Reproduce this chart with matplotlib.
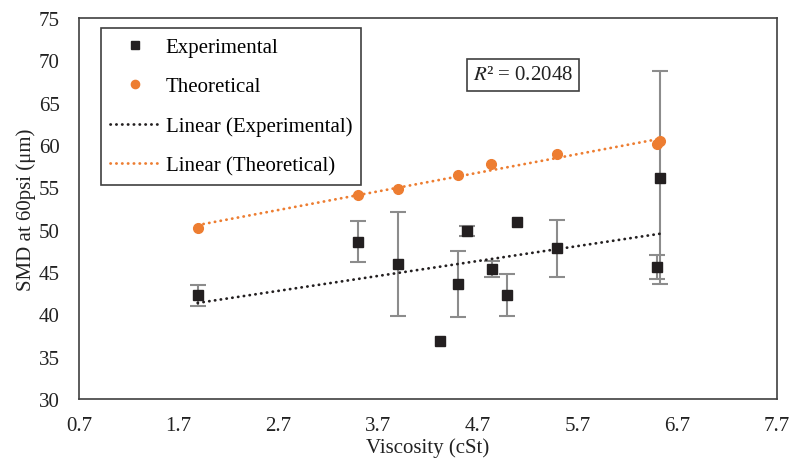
import numpy as np
import matplotlib
matplotlib.use("Agg")
import matplotlib.pyplot as plt

plt.rcParams["font.family"] = ["Liberation Serif", "DejaVu Serif"]
plt.rcParams["mathtext.fontset"] = "stix"

# Measured droplet size against viscosity
exp_x = [1.89, 3.495, 3.897, 4.32, 4.498, 4.595, 4.839, 4.996, 5.096, 5.497, 6.497, 6.53]
exp_y = [42.25, 48.58, 45.94, 36.9, 43.62, 49.84, 45.35, 42.25, 50.87, 47.8, 45.63, 56.14]
exp_err = [1.25, 2.4, 6.1, 0.0, 3.9, 0.6, 0.9, 2.5, 0.0, 3.35, 1.4, 12.6]

# Model prediction
theo_x = [1.89, 3.495, 3.897, 4.498, 4.835, 5.497, 6.497, 6.53]
theo_y = [50.2, 54.13, 54.77, 56.42, 57.72, 58.94, 60.1, 60.5]

x_ticks = [0.7, 1.7, 2.7, 3.7, 4.7, 5.7, 6.7, 7.7]
y_ticks = [30, 35, 40, 45, 50, 55, 60, 65, 70, 75]

black = "#231f20"
orange = "#ed7d31"
grey = "#8c8c8c"
frame = "#404040"
txt = "#222222"

fig = plt.figure(figsize=(7.91, 4.64), dpi=100)
ax = fig.add_axes([0.0999, 0.1379, 0.8824, 0.8211])

# error bars only where a spread was measured
ex = [x for x, e in zip(exp_x, exp_err) if e > 0]
ey = [y for y, e in zip(exp_y, exp_err) if e > 0]
ee = [e for e in exp_err if e > 0]
ax.errorbar(ex, ey, yerr=ee, fmt="none", ecolor=grey,
            elinewidth=1.5, capsize=6, capthick=1.5, zorder=2)
ax.plot(exp_x, exp_y, ls="none", marker="s", ms=7.5, color=black,
        label="Experimental", zorder=4)
ax.plot(theo_x, theo_y, ls="none", marker="o", ms=7, color=orange,
        label="Theoretical", zorder=4)

# Least-squares trend lines over the data range
for xs, ys, col, lab in [(exp_x, exp_y, black, "Linear (Experimental)"),
                         (theo_x, theo_y, orange, "Linear (Theoretical)")]:
    k, b = np.polyfit(xs, ys, 1)
    xx = np.array([min(xs), max(xs)])
    ax.plot(xx, k * xx + b, color=col, lw=2.0, ls=(0, (0.1, 2.0)),
            dash_capstyle="round", label=lab, zorder=3)

ax.set_xlim(0.7, 7.7)
ax.set_ylim(30, 75)
ax.set_xticks(x_ticks)
ax.set_xticklabels([f"{v:.1f}" for v in x_ticks])
ax.set_yticks(y_ticks)
ax.tick_params(length=0, labelsize=15, colors=txt)
ax.tick_params(axis="y", pad=14)
ax.tick_params(axis="x", pad=12)
for s in ax.spines.values():
    s.set_color(frame)
    s.set_linewidth(1.2)

ax.set_xlabel("Viscosity (cSt)", fontsize=15, color=txt, labelpad=2)
ax.set_ylabel("SMD at 60psi (μm)", fontsize=15, color=txt, labelpad=2)

leg = ax.legend(loc="upper left", bbox_to_anchor=(101 / 791, 1 - 29 / 464),
                bbox_transform=fig.transFigure, fontsize=15, frameon=True,
                fancybox=False, edgecolor=frame, framealpha=1,
                handlelength=2.4, handletextpad=0.25, labelspacing=0.95,
                borderpad=0.45, borderaxespad=0, markerscale=0.85)
leg.get_frame().set_linewidth(1.2)

ax.text(523 / 791, 1 - 76 / 464, "$R$² = 0.2048", transform=fig.transFigure,
        ha="center", va="center", fontsize=15, color=txt,
        bbox=dict(boxstyle="square,pad=0.3", fc="white", ec=frame, lw=1.2))

fig.savefig("out.png", dpi=100)
